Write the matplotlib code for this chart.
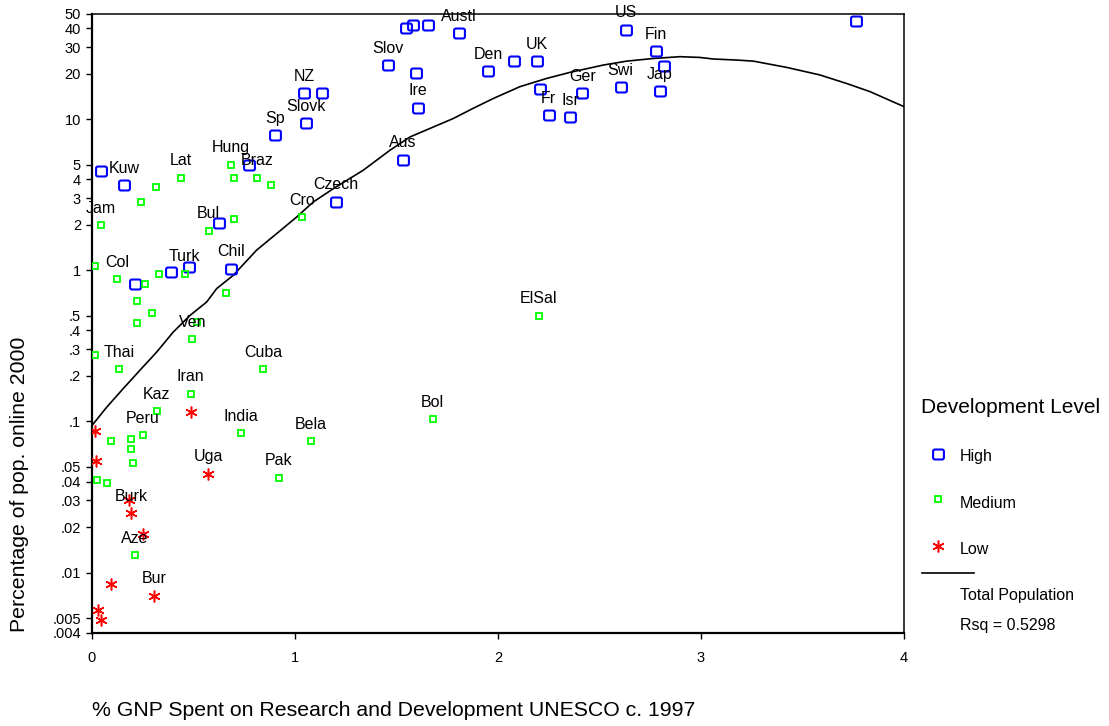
import numpy as np
import matplotlib
matplotlib.use('Agg')
import matplotlib.pyplot as plt
from matplotlib.path import Path
from matplotlib.lines import Line2D

plt.rcParams['font.family'] = ['Liberation Sans', 'DejaVu Sans']

# values: x = % GNP on R&D, y = % of pop. online 2000
high_x = [0.044, 0.159, 0.21, 0.388, 0.476, 0.683, 0.624, 0.772, 0.90, 1.046, 1.134, 1.056,
          1.203, 1.46, 1.596, 1.607, 1.53, 1.547, 1.583, 1.657, 1.806, 1.952, 2.079, 2.19,
          2.207, 2.25, 2.356, 2.415, 2.604, 2.632, 2.778, 2.819, 2.798, 3.764]
high_y = [4.53, 3.64, 0.816, 0.975, 1.047, 1.02, 2.04, 5.01, 7.83, 14.8, 14.8, 9.36,
          2.85, 22.7, 20.1, 11.9, 5.38, 40.3, 41.8, 41.8, 37.1, 20.7, 24.1, 24.1,
          15.8, 10.6, 10.3, 14.8, 16.2, 39.0, 28.2, 22.3, 15.3, 44.6]
high_lab = ['', 'Kuw', '', '', '', 'Chil', '', '', 'Sp', 'NZ', '', 'Slovk',
            'Czech', 'Slov', '', 'Ire', 'Aus', '', '', '', 'Austl', 'Den', '', 'UK',
            '', 'Fr', 'Isr', 'Ger', 'Swi', 'US', 'Fin', '', 'Jap', '']

med_x = [0.683, 0.701, 0.811, 0.88, 0.437, 0.317, 0.24, 0.043, 0.701, 0.575, 1.036, 0.013,
         0.122, 0.26, 0.328, 0.457, 0.22, 0.297, 0.22, 0.662, 0.519, 0.494, 0.013, 0.133,
         0.842, 0.486, 0.319, 0.732, 1.077, 0.092, 0.19, 0.25, 0.192, 0.20, 0.023, 0.072,
         0.92, 1.678, 2.2, 0.21]
med_y = [4.98, 4.11, 4.11, 3.64, 4.11, 3.53, 2.85, 1.98, 2.18, 1.82, 2.24, 1.07,
         0.872, 0.816, 0.951, 0.945, 0.623, 0.521, 0.446, 0.704, 0.455, 0.349, 0.274, 0.222,
         0.222, 0.153, 0.117, 0.0837, 0.0737, 0.0737, 0.076, 0.081, 0.0653, 0.053, 0.041, 0.039,
         0.0424, 0.1036, 0.501, 0.013]
med_lab = ['Hung', '', 'Braz', '', 'Lat', '', '', 'Jam', '', 'Bul', 'Cro', '',
           'Col', '', '', 'Turk', '', '', '', '', '', 'Ven', '', 'Thai',
           'Cuba', 'Iran', 'Kaz', 'India', 'Bela', '', '', 'Peru', '', '', '', '',
           'Pak', 'Bol', 'ElSal', 'Aze']

low_x = [0.015, 0.018, 0.486, 0.573, 0.184, 0.194, 0.25, 0.092, 0.307, 0.03, 0.043]
low_y = [0.0859, 0.0546, 0.116, 0.045, 0.030, 0.0246, 0.0179, 0.00846, 0.00704, 0.00566, 0.00486]
low_lab = ['', '', '', 'Uga', '', 'Burk', '', '', 'Bur', '', '']

# fitted curve (Total Population)
fit_x = [0.0, 0.072, 0.154, 0.236, 0.319, 0.40, 0.483, 0.565, 0.614, 0.696, 0.811, 0.91,
         1.008, 1.09, 1.189, 1.336, 1.468, 1.567, 1.78, 1.878, 1.977, 2.108, 2.24,
         2.355, 2.519, 2.634, 2.765, 2.897, 2.995, 3.06, 3.176, 3.258, 3.422, 3.586, 3.718,
         3.833, 3.947, 4.0]
fit_y = [0.094, 0.124, 0.165, 0.218, 0.288, 0.390, 0.503, 0.617, 0.756, 0.927, 1.36, 1.75,
         2.25, 2.83, 3.47, 4.59, 6.23, 7.63, 10.1, 11.8, 13.7, 16.4, 18.6,
         20.4, 22.8, 24.2, 25.2, 25.9, 25.6, 25.0, 24.6, 24.2, 22.0, 19.6, 17.2,
         15.2, 13.0, 12.1]

yticks = [50, 40, 30, 20, 10, 5, 4, 3, 2, 1, .5, .4, .3, .2, .1, .05, .04, .03, .02, .01, .005, .004]
ytick_labels = ['50', '40', '30', '20', '10', '5', '4', '3', '2', '1', '.5', '.4', '.3', '.2',
                '.1', '.05', '.04', '.03', '.02', '.01', '.005', '.004']
xticks = [0, 1, 2, 3, 4]


def rounded_box(r=0.35, h=0.92):
    v = [(-1+r, -1), (1-r, -1), (1, -1), (1, -1+r), (1, 1-r), (1, 1), (1-r, 1),
         (-1+r, 1), (-1, 1), (-1, 1-r), (-1, -1+r), (-1, -1), (-1+r, -1), (-1+r, -1)]
    v = [(a, b*h) for a, b in v]
    c = [Path.MOVETO, Path.LINETO, Path.CURVE3, Path.CURVE3, Path.LINETO, Path.CURVE3, Path.CURVE3,
         Path.LINETO, Path.CURVE3, Path.CURVE3, Path.LINETO, Path.CURVE3, Path.CURVE3, Path.CLOSEPOLY]
    return Path(v, c)


box = rounded_box()
blue = '#0000ff'
green = '#00ff00'
red = '#ff0000'
high_style = dict(marker=box, markersize=7.8, markerfacecolor='none', markeredgecolor=blue,
                  markeredgewidth=1.5, linestyle='none')
med_style = dict(marker='s', markersize=5, markerfacecolor='none', markeredgecolor=green,
                 markeredgewidth=1.3, linestyle='none')
low_style = dict(marker=(6, 2, 0), markersize=8.5, markeredgecolor=red, markeredgewidth=1.1,
                 linestyle='none')

fig = plt.figure(figsize=(11.09, 7.26), dpi=100)
ax = fig.add_axes([92/1109, 1-632.7/726, (904-92)/1109, (632.7-13.5)/726])

ax.plot(fit_x, fit_y, color='black', linewidth=1.2, zorder=2)
ax.plot(high_x, high_y, zorder=3, **high_style)
ax.plot(med_x, med_y, zorder=3, **med_style)
ax.plot(low_x, low_y, zorder=3, **low_style)

for xs, ys, labs in [(high_x, high_y, high_lab), (med_x, med_y, med_lab), (low_x, low_y, low_lab)]:
    for x, y, t in zip(xs, ys, labs):
        if t:
            ax.annotate(t, (x, y), xytext=(0, 9), textcoords='offset points',
                        ha='center', va='baseline', fontsize=11.5, zorder=4)

ax.set_yscale('log')
ax.set_xlim(0, 4)
ax.set_ylim(0.004, 50)
ax.set_yticks(yticks)
ax.set_yticklabels(ytick_labels)
ax.yaxis.set_minor_locator(matplotlib.ticker.NullLocator())
ax.set_xticks(xticks)
ax.set_xticklabels([str(t) for t in xticks])
ax.tick_params(axis='y', length=4, width=1, pad=4, labelsize=10.5)
ax.tick_params(axis='x', length=4, width=1, pad=9, labelsize=10.5)
for s in ['left', 'bottom']:
    ax.spines[s].set_linewidth(1.6)
for s in ['top', 'right']:
    ax.spines[s].set_linewidth(1.1)

fig.text(20/1109, 1-484/726, 'Percentage of pop. online 2000', rotation=90,
         ha='center', va='center', fontsize=15.3)
fig.text(92/1109, 1-716/726, '% GNP Spent on Research and Development UNESCO c. 1997',
         ha='left', va='baseline', fontsize=15.3)

# legend drawn in pixel coordinates on an overlay
lax = fig.add_axes([0, 0, 1, 1], facecolor='none')
lax.set_xlim(0, 1109)
lax.set_ylim(726, 0)
lax.axis('off')
lax.text(921, 413, 'Development Level', fontsize=15, va='baseline')
lax.plot([938], [454], **high_style)
lax.text(960, 461.5, 'High', fontsize=11.5, va='baseline')
lax.plot([938], [499], **med_style)
lax.text(960, 508, 'Medium', fontsize=11.5, va='baseline')
lax.plot([938], [546], **low_style)
lax.text(960, 554, 'Low', fontsize=11.5, va='baseline')
lax.add_line(Line2D([922, 974], [573, 573], color='black', linewidth=1.2))
lax.text(960, 600, 'Total Population', fontsize=11.5, va='baseline')
lax.text(960, 630, 'Rsq = 0.5298', fontsize=11.5, va='baseline')

fig.savefig('out.png', dpi=100)
